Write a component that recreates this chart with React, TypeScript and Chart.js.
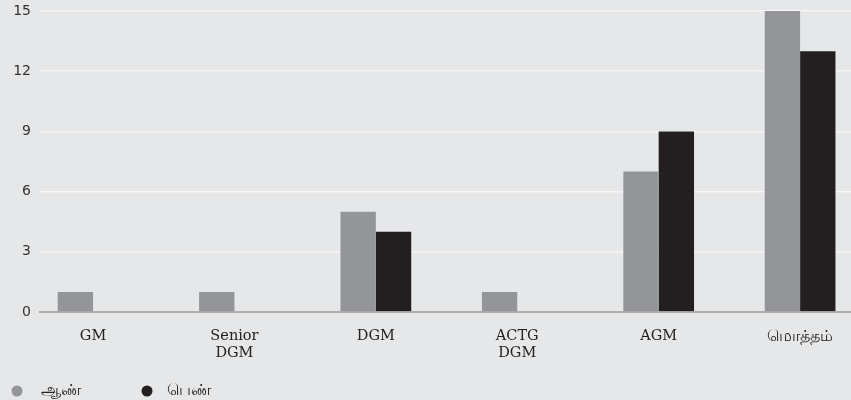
import { useEffect, useRef } from 'react';
import { Chart, registerables } from 'chart.js';

Chart.register(...registerables);

const categories: (string | string[])[] = ['GM', ['Senior', 'DGM'], 'DGM', ['ACTG', 'DGM'], 'AGM', 'மொத்தம்'];
const maleValues = [1, 1, 5, 1, 7, 15];
const femaleValues = [0, 0, 4, 0, 9, 13];
const seriesNames = ['ஆண்', 'பெண்'];
const yTickValues = [0, 3, 6, 9, 12, 15];

const BG = '#e6e7e8';
const MALE = '#939598';
const FEMALE = '#231f20';

const isTamil = (s: string | string[]) => /[\u0B80-\u0BFF]/.test(Array.isArray(s) ? s.join('') : s);

const backgroundPlugin = {
  id: 'bgFill',
  beforeDraw(chart: any) {
    const ctx = chart.ctx;
    ctx.save();
    ctx.fillStyle = BG;
    ctx.fillRect(0, 0, chart.width, chart.height);
    ctx.restore();
  },
};

const legendPlugin = {
  id: 'bottomLegend',
  afterDraw(chart: any) {
    const ctx = chart.ctx;
    const slots = [
      { cx: 17, tx: 41 },
      { cx: 147, tx: 167 },
    ];
    const y = 391;
    chart.data.datasets.forEach((ds: any, i: number) => {
      const s = slots[i];
      ctx.save();
      ctx.fillStyle = ds.backgroundColor;
      ctx.beginPath();
      ctx.arc(s.cx, y, 5.5, 0, Math.PI * 2);
      ctx.fill();
      ctx.fillStyle = '#222';
      ctx.font = '15.5px "DejaVu Serif", serif';
      ctx.textBaseline = 'middle';
      ctx.textAlign = 'left';
      ctx.fillText(ds.label, s.tx, y);
      ctx.restore();
    });
  },
};

export default function App() {
  const canvasRef = useRef<HTMLCanvasElement | null>(null);

  useEffect(() => {
    document.body.style.margin = '0';
    const canvas = canvasRef.current;
    if (!canvas) return;
    const chart = new Chart(canvas, {
      type: 'bar',
      data: {
        datasets: [
          {
            label: seriesNames[0],
            data: maleValues.map((v, i) => ({ x: i, y: v })),
            backgroundColor: MALE,
            borderWidth: 0,
            categoryPercentage: 0.5,
            barPercentage: 1,
          },
          {
            label: seriesNames[1],
            data: femaleValues.map((v, i) => ({ x: i, y: v })),
            backgroundColor: FEMALE,
            borderWidth: 0,
            categoryPercentage: 0.5,
            barPercentage: 1,
          },
        ],
      },
      options: {
        responsive: false,
        animation: false,
        layout: { padding: { left: 13, right: 0, top: 11, bottom: 22 } },
        plugins: {
          legend: { display: false },
          tooltip: { enabled: false },
        },
        scales: {
          x: {
            type: 'linear',
            offset: false,
            bounds: 'data',
            min: -0.375,
            max: 5.36,
            afterBuildTicks: (scale: any) => {
              scale.ticks = categories.map((_, i) => ({ value: i }));
            },
            afterFit: (scale: any) => {
              scale.paddingLeft = 0;
              scale.paddingRight = 0;
            },
            ticks: {
              autoSkip: false,
              maxRotation: 0,
              padding: 16,
              color: '#222',
              font: (ctx: any) => ({
                family: '"DejaVu Serif", serif',
                size: ctx.index !== undefined && isTamil(categories[ctx.index]) ? 15.5 : 14.5,
                lineHeight: 1.17,
              }),
              callback: (v: any) => categories[v as number],
            },
            grid: { display: false, drawTicks: false, offset: false },
            border: { display: true, color: 'rgba(150,150,150,0.75)', width: 2, z: 1 },
          },
          y: {
            min: 0,
            max: 15,
            afterBuildTicks: (scale: any) => {
              scale.ticks = yTickValues.map((v) => ({ value: v }));
            },
            afterFit: (scale: any) => {
              scale.width = 27;
              scale.paddingTop = 0;
              scale.paddingBottom = 0;
            },
            ticks: {
              padding: 9,
              color: '#333',
              font: { family: '"DejaVu Sans", sans-serif', size: 14 },
            },
            grid: { color: '#f6f6f6', lineWidth: 1.5, drawTicks: false },
            border: { display: false },
          },
        },
      } as any,
      plugins: [backgroundPlugin, legendPlugin],
    });
    return () => chart.destroy();
  }, []);

  return (
    <div style={{ width: 851, height: 400, background: BG }}>
      <canvas ref={canvasRef} width={851} height={400} style={{ display: 'block' }} />
    </div>
  );
}
